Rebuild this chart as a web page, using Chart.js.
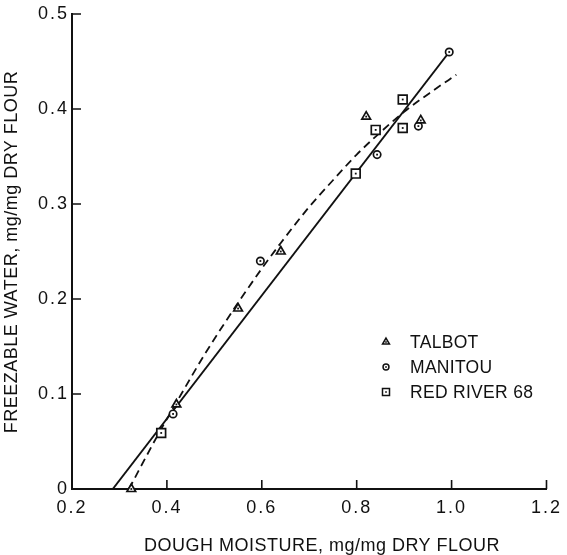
<!DOCTYPE html>
<html><head><meta charset="utf-8">
<script src="https://cdn.jsdelivr.net/npm/chart.js@4.4.1/dist/chart.umd.min.js"></script>
<style>html,body{margin:0;padding:0;background:#fff;} canvas{display:block;}</style>
</head><body>
<canvas id="c" width="567" height="555"></canvas>
<script>
// ---- data ----
const seriesNames = ['TALBOT', 'MANITOU', 'RED RIVER 68'];
const talbotX   = [0.325, 0.42, 0.55, 0.64, 0.82, 0.935];
const talbotY   = [0.0,   0.089, 0.19, 0.25, 0.392, 0.388];
const manitouX  = [0.413, 0.597, 0.843, 0.93, 0.995];
const manitouY  = [0.079, 0.24,  0.352, 0.382, 0.46];
const redRiverX = [0.388, 0.798, 0.84, 0.897, 0.897];
const redRiverY = [0.059, 0.332, 0.378, 0.41, 0.38];
const fitLineX  = [0.286, 0.995];
const fitLineY  = [0.0,   0.46];
const fitCurveX = [0.32, 0.38, 0.42, 0.48, 0.55, 0.60, 0.64, 0.70, 0.75, 0.80, 0.84, 0.90, 0.96, 1.01];
const fitCurveY = [0.0, 0.056, 0.091, 0.142, 0.196, 0.232, 0.259, 0.297, 0.325, 0.352, 0.371, 0.397, 0.419, 0.436];
const xTickLabels = ['0.2', '0.4', '0.6', '0.8', '1.0', '1.2'];
const yTickLabels = ['0', '0.1', '0.2', '0.3', '0.4', '0.5'];
const xTitle = 'DOUGH MOISTURE, mg/mg DRY FLOUR';
const yTitle = 'FREEZABLE WATER, mg/mg DRY FLOUR';

const INK = '#111';
const FONT = "'Liberation Sans', Arial, sans-serif";
const pts = (xs, ys) => xs.map((x, i) => ({x: x, y: ys[i]}));

function markerSet(label, xs, ys, style, r) {
  return {
    label: label, data: pts(xs, ys), showLine: false,
    pointStyle: style, pointRadius: r, pointHoverRadius: r,
    pointBorderColor: INK, pointBackgroundColor: '#fff', pointBorderWidth: 1.7,
    clip: false
  };
}

const datasets = [
  markerSet(seriesNames[0], talbotX, talbotY, 'triangle', 5),
  markerSet(seriesNames[1], manitouX, manitouY, 'circle', 3.7),
  markerSet(seriesNames[2], redRiverX, redRiverY, 'rect', 6.2),
  { label: 'fit line', data: pts(fitLineX, fitLineY), showLine: true, pointRadius: 0,
    borderColor: INK, borderWidth: 2, fill: false, clip: false },
  { label: 'fit curve', data: pts(fitCurveX, fitCurveY), showLine: true, pointRadius: 0,
    borderColor: INK, borderWidth: 1.8, borderDash: [8, 5], cubicInterpolationMode: 'monotone',
    fill: false, clip: false }
];

// tick labels are drawn slightly letter-spaced, like the original lettering
const spacing = {
  id: 'spacing',
  beforeDraw(chart) { chart.ctx.letterSpacing = '2px'; },
  afterDraw(chart) { chart.ctx.letterSpacing = '0px'; }
};

const innerTicks = {
  id: 'innerTicks',
  afterDraw(chart) {
    const ctx = chart.ctx, xs = chart.scales.x, ys = chart.scales.y;
    const left = chart.chartArea.left, bottom = chart.chartArea.bottom;
    ctx.save();
    ctx.strokeStyle = INK; ctx.lineWidth = 1.6;
    ctx.beginPath();
    xs.ticks.forEach((t, i) => {
      if (i === 0) return;
      const px = xs.getPixelForTick(i);
      ctx.moveTo(px, bottom); ctx.lineTo(px, bottom - 9);
    });
    ys.ticks.forEach((t, i) => {
      if (i === 0) return;
      const py = ys.getPixelForTick(i);
      ctx.moveTo(left, py); ctx.lineTo(left + 9, py);
    });
    ctx.stroke();
    ctx.restore();
  }
};

const centerDots = {
  id: 'centerDots',
  afterDatasetsDraw(chart) {
    const ctx = chart.ctx;
    ctx.save(); ctx.fillStyle = INK;
    for (let d = 0; d < 3; d++) {
      chart.getDatasetMeta(d).data.forEach(el => {
        ctx.fillRect(el.x - 0.9, el.y - 0.9, 1.8, 1.8);
      });
    }
    ctx.restore();
  }
};

const titlesAndLegend = {
  id: 'titlesAndLegend',
  afterDraw(chart) {
    const ctx = chart.ctx;
    ctx.save();
    ctx.letterSpacing = '0.5px';
    ctx.fillStyle = INK;
    ctx.font = '18px ' + FONT;
    ctx.textAlign = 'center'; ctx.textBaseline = 'middle';
    // x-axis title
    ctx.fillText(xTitle, 322, 546);
    // y-axis title
    ctx.save();
    ctx.translate(12, 252);
    ctx.rotate(-Math.PI / 2);
    ctx.fillText(yTitle, 0, 0);
    ctx.restore();
    // legend inside the plot
    const mx = 386, tx = 410, y0 = 342, dy = 25;
    ctx.letterSpacing = '0.3px';
    for (let d = 0; d < 3; d++) {
      const ds = chart.data.datasets[d];
      const y = y0 + d * dy;
      ctx.strokeStyle = INK; ctx.fillStyle = '#fff'; ctx.lineWidth = 1.5;
      Chart.helpers.drawPoint(ctx, {pointStyle: ds.pointStyle, radius: ds.pointRadius * 0.8, rotation: 0, borderWidth: 1.5}, mx, y);
      ctx.fillStyle = INK;
      ctx.fillRect(mx - 0.8, y - 0.8, 1.6, 1.6);
      ctx.font = '17.5px ' + FONT;
      ctx.textAlign = 'left'; ctx.textBaseline = 'middle';
      ctx.fillText(ds.label, tx, y + 1);
    }
    ctx.restore();
  }
};

new Chart(document.getElementById('c'), {
  type: 'scatter',
  data: { datasets: datasets },
  options: {
    responsive: false, animation: false, devicePixelRatio: 1,
    layout: { padding: { top: 14, right: 14, bottom: 0, left: 0 } },
    plugins: { legend: { display: false }, tooltip: { enabled: false } },
    scales: {
      x: {
        type: 'linear', min: 0.2, max: 1.2,
        afterFit(s) { s.height = 66; },
        border: { display: true, color: INK, width: 2 },
        grid: { drawOnChartArea: false, drawTicks: false, color: INK },
        ticks: { stepSize: 0.2, padding: 8, color: INK, font: { family: FONT, size: 18 },
                 callback: (v, i) => xTickLabels[i] },
        title: { display: false }
      },
      y: {
        type: 'linear', min: 0, max: 0.5,
        afterFit(s) { s.width = 72; },
        border: { display: true, color: INK, width: 2 },
        grid: { drawOnChartArea: false, drawTicks: false, color: INK },
        ticks: { stepSize: 0.1, padding: 3, color: INK, font: { family: FONT, size: 18 },
                 callback: (v, i) => yTickLabels[i] },
        title: { display: false }
      }
    }
  },
  plugins: [spacing, innerTicks, centerDots, titlesAndLegend]
});
</script>
</body></html>
